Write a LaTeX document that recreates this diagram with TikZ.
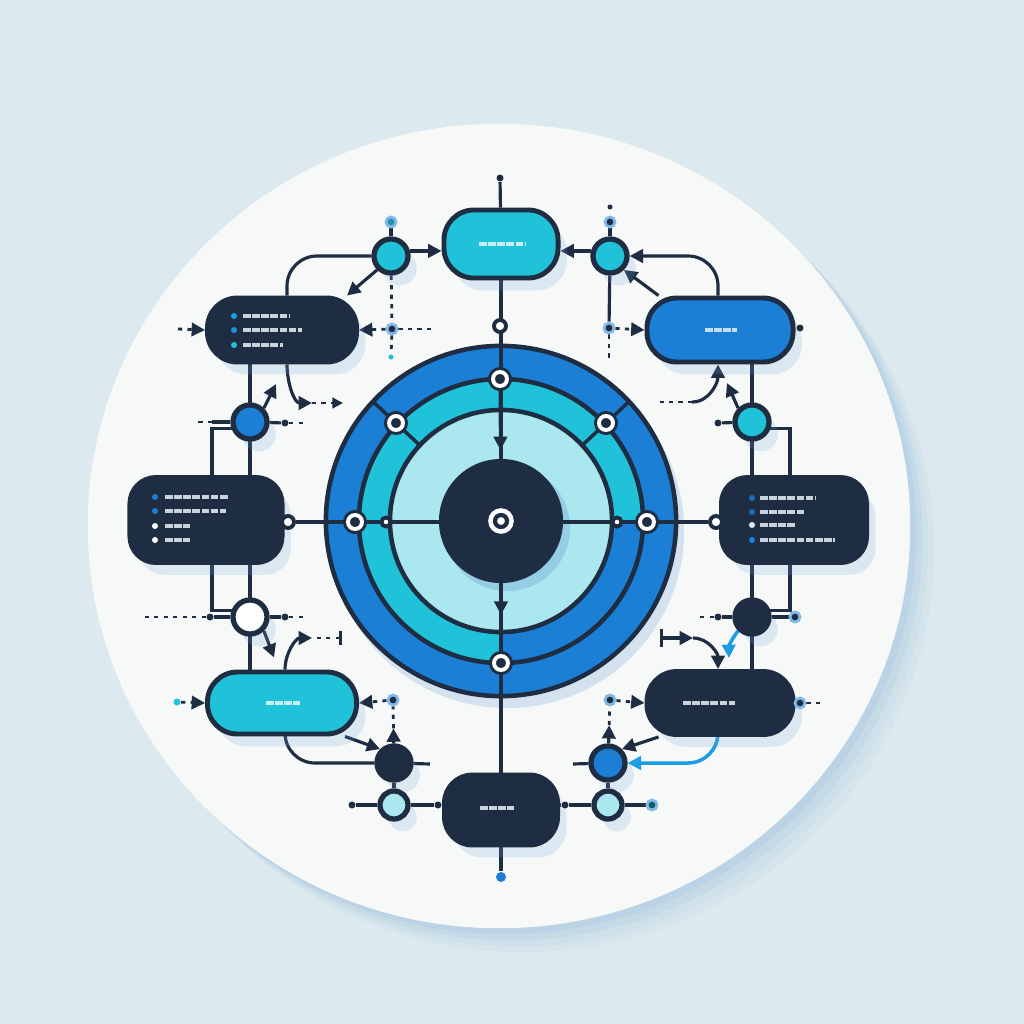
\documentclass[tikz,border=0pt]{standalone}
\usetikzlibrary{arrows.meta,calc}

\definecolor{navy}{HTML}{1F2D42}
\definecolor{ringblue}{HTML}{1C7FD6}
\definecolor{ringcyan}{HTML}{1FC2D9}
\definecolor{paleaqua}{HTML}{ABE7EF}
\definecolor{backdrop}{HTML}{DCE9EE}
\definecolor{disc}{HTML}{F7F9F9}
\definecolor{glow}{HTML}{6E9FD3}
\definecolor{brightblue}{HTML}{1E9CE3}
\definecolor{glyph}{HTML}{C9D3DE}

\pgfdeclarelayer{back}
\pgfdeclarelayer{wires}
\pgfsetlayers{back,wires,main}

\begin{document}
\begin{tikzpicture}[x=0.01cm,y=-0.01cm,
    wire/.style={draw=navy,line width=0.9pt},
    dotwire/.style={draw=navy,line width=0.8pt,dash pattern=on 1.2pt off 1.5pt},
    bluewire/.style={draw=brightblue,line width=1pt},
    arr/.style={-{Triangle[length=3.8pt,width=3.8pt]}},
    lift/.style={preaction={fill=glow,opacity=0.2,transform canvas={xshift=2.5pt,yshift=-3.5pt}}},
    card/.style={rectangle,rounded corners=0.26cm,draw=navy,line width=1.4pt,inner sep=0pt,lift},
    ball/.style={circle,draw=navy,line width=1.5pt,minimum size=0.34cm,inner sep=0pt,lift},
    ringnode/.style={circle,fill=navy,draw=navy,double=white,double distance=1.1pt,line width=0.85pt,minimum size=0.14cm,inner sep=0pt},
    hubnode/.style={circle,fill=white,draw=white,double=navy,double distance=1.2pt,line width=1.3pt,minimum size=0.12cm,inner sep=0pt},
    hollow/.style={circle,fill=white,draw=navy,line width=1.1pt,minimum size=0.12cm,inner sep=0pt},
    pin/.style={circle,fill=navy,minimum size=0.07cm,inner sep=0pt},
    bead/.style={circle,fill=navy,draw=ringblue!55,line width=0.8pt,minimum size=0.1cm,inner sep=0pt},
    glyphs/.style={line width=1.4pt,dash pattern=on 2.2pt off 0.4pt}
]

\begin{pgfonlayer}{back}
    \fill[backdrop] (0,0) rectangle (1024,1024);
    \foreach \s/\o in {24/0.05,18/0.07,12/0.09,6/0.11}
        \fill[glow,opacity=\o] ({499+\s},{526+\s}) ellipse [x radius=4.11cm,y radius=4.02cm];
    \fill[disc] (499,526) ellipse [x radius=4.11cm,y radius=4.02cm];

    % target rings
    \fill[glow,opacity=0.25] (507,531) circle [radius=1.77cm];
    \fill[ringblue] (501,521) circle [radius=1.75cm];
    \fill[ringcyan] (501,521) circle [radius=1.42cm];
    \fill[ringblue] (501,521) -- ++(0:1.42cm) arc [start angle=0,end angle=-90,radius=1.42cm] -- cycle;
    \fill[paleaqua] (501,521) circle [radius=1.11cm];
    \fill[glow,opacity=0.35] (507,528) circle [radius=0.63cm];
    \fill[navy] (501,521) circle [radius=0.62cm];
    \draw[navy,line width=1.3pt] (501,521) circle [radius=1.75cm] circle [radius=1.42cm] circle [radius=1.11cm];
    \draw[navy,line width=1pt] (501,521) ++(137:1.11cm) -- ++(137:0.64cm)
        (501,521) ++(43:1.11cm) -- ++(43:0.64cm);
\end{pgfonlayer}

% target markers
\node[hubnode] (hub) at (501,521) {};
\node[ringnode] (rtop) at (500,379) {};
\node[ringnode] (rtl) at (396,423) {};
\node[ringnode] (rtr) at (606,423) {};
\node[ringnode] (rleft) at (355,522) {};
\node[ringnode] (rright) at (647,522) {};
\node[ringnode] (rbot) at (501,663) {};
\node[hollow,minimum size=0.09cm] (wl) at (386,522) {};
\node[hollow,minimum size=0.09cm] (wr) at (617,522) {};

% boxes
\node[card,fill=ringcyan,minimum width=1.14cm,minimum height=0.68cm,rounded corners=0.3cm] (topbox) at (501,244) {};
\node[card,fill=navy,minimum width=1.49cm,minimum height=0.64cm,rounded corners=0.3cm] (tlbox) at (282,330) {};
\node[card,fill=ringblue,minimum width=1.46cm,minimum height=0.64cm,rounded corners=0.3cm] (trbox) at (720,330) {};
\node[card,fill=navy,minimum width=1.52cm,minimum height=0.85cm] (lmbox) at (206,520) {};
\node[card,fill=navy,minimum width=1.45cm,minimum height=0.85cm] (rmbox) at (794,520) {};
\node[card,fill=ringcyan,minimum width=1.49cm,minimum height=0.62cm,rounded corners=0.3cm] (lbbox) at (282,703) {};
\node[card,fill=navy,minimum width=1.46cm,minimum height=0.63cm,rounded corners=0.3cm] (rbbox) at (720,703) {};
\node[card,fill=navy,minimum width=1.13cm,minimum height=0.70cm,rounded corners=0.28cm] (botbox) at (501,810) {};

% circles
\node[ball,fill=ringcyan] (tlc) at (391,256) {};
\node[ball,fill=ringcyan] (trc) at (610,256) {};
\node[ball,fill=ringblue] (lc1) at (250,422) {};
\node[ball,fill=ringcyan] (rc1) at (752,422) {};
\node[ball,fill=white] (lc2) at (250,617) {};
\node[ball,fill=navy] (rc2) at (752,617) {};
\node[ball,fill=navy] (lbc) at (394,763) {};
\node[ball,fill=ringblue] (rbc) at (608,763) {};
\node[ball,fill=paleaqua,minimum size=0.28cm] (lbl) at (394,805) {};
\node[ball,fill=paleaqua,minimum size=0.28cm] (rbl) at (608,805) {};

% dots
\node[pin] (topdot) at (500,178) {};
\node[hollow] (topring) at (500,326) {};
\node[pin,fill=ringblue,minimum size=0.1cm] (botdot) at (501,877) {};
\node[pin] (botnotch) at (501,776) {};
\node[bead,fill=ringcyan!70!navy] (tlcdot) at (391,222) {};
\node[bead] (trcdot) at (610,222) {};
\node[pin,minimum size=0.05cm] (trtop) at (610,207) {};
\node[bead] (tlmid) at (392,329) {};
\node[bead] (trmid) at (609,328) {};
\node[pin,fill=ringcyan,minimum size=0.05cm] (tlmidb) at (391,357) {};
\node[pin] (trpin) at (800,328) {};
\node[hollow] (lhook) at (288,522) {};
\node[hollow] (rhook) at (716,522) {};
\node[pin] (lc1r) at (285,423) {};
\node[pin] (rc1l) at (718,423) {};
\node[pin] (lc2l) at (210,617) {};
\node[pin] (lc2r) at (285,617) {};
\node[pin] (rc2l) at (718,617) {};
\node[bead] (rc2r) at (795,617) {};
\node[pin,fill=ringcyan] (lbin) at (177,702) {};
\node[bead] (lbring) at (393,700) {};
\node[bead] (rbring) at (610,700) {};
\node[bead] (rbpin) at (800,703) {};
\node[pin] (lbll) at (352,805) {};
\node[pin] (botl) at (438,805) {};
\node[pin] (botr) at (565,805) {};
\node[bead,fill=teal!60!navy] (rblr) at (652,805) {};

\coordinate (tlin) at (178,329);
\coordinate (tlmidr) at (436,329);
\coordinate (trmidb) at (609,358);
\coordinate (tlknee) at (312,403);
\coordinate (tltail) at (343,403);
\coordinate (trknee) at (692,402);
\coordinate (trtail) at (660,402);
\coordinate (lc1stub) at (212,422);
\coordinate (lc1tail) at (198,422);
\coordinate (lc1rtail) at (303,423);
\coordinate (lc1up) at (276,384);
\coordinate (rc1up) at (727,383);
\coordinate (lc2tail) at (140,617);
\coordinate (lc2rtail) at (305,617);
\coordinate (rc2ltail) at (700,617);
\coordinate (rc2blue) at (729,658);
\coordinate (lbknee) at (312,638);
\coordinate (lbtail) at (342,638);
\coordinate (rbknee) at (693,638);
\coordinate (rbtail) at (660,638);
\coordinate (lbcstub) at (430,764);
\coordinate (rbcstub) at (573,764);
\coordinate (rbpintail) at (825,703);

\begin{pgfonlayer}{wires}
    % spine
    \draw[wire] (topdot) -- (topbox);
    \draw[wire] (topbox) -- (botbox);
    \draw[wire] (botbox) -- (botdot);
    \draw[wire] (lhook) -- (rhook);
    \draw[wire,arr] (rtop) -- ($(rtop)!0.5!(hub)$);
    \draw[wire,arr] (hub) -- ($(hub)!0.66!(rbot)$);

    % top left
    \draw[wire] (tlcdot) -- (tlc);
    \draw[wire,arr] (tlc.15) -- (tlc.15 -| topbox.west);
    \draw[wire,rounded corners=0.3cm] (tlc.west) -| ($(tlbox.north)+(5,0)$);
    \draw[wire,arr] (tlc.225) -- ($(tlbox.north east)+(-12,0)$);
    \draw[dotwire] (tlc) -- (tlmid) -- (tlmidb);
    \draw[dotwire,arr] (tlmid) -- (tlbox.east);
    \draw[dotwire] (tlmid) -- (tlmidr);
    \draw[dotwire,arr] (tlin) -- (tlbox.west);

    % top right
    \draw[wire] (trcdot) -- (trc);
    \draw[wire,arr] (trc.165) -- (trc.165 -| topbox.east);
    \draw[wire,arr,rounded corners=0.3cm] ($(trbox.north)+(-2,0)$) |- (trc.east);
    \draw[wire,arr] ($(trbox.north west)+(14,0)$) -- (trc.south east);
    \draw[wire] (trc) -- (trmid);
    \draw[dotwire] (trmid) -- (trmidb);
    \draw[dotwire,arr] (trmid) -- (trbox.west);

    % left column
    \draw[wire] (tlbox.south -| lc1) -- (lmbox.north -| lc1);
    \draw[wire] ($(lmbox.north -| lc1)+(-38,0)$) |- (lc1.200);
    \draw[wire] (lc1) -- (lc1stub);
    \draw[dotwire] (lc1stub) -- (lc1tail);
    \draw[wire] (lc1) -- (lc1r);
    \draw[dotwire] (lc1r) -- (lc1rtail);
    \draw[wire,arr] (lc1.north east) -- (lc1up);
    \draw[wire,arr] ($(tlbox.south)+(5,0)$) to[out=-90,in=180] (tlknee);
    \draw[dotwire,-{Triangle[length=3pt,width=3pt]}] (tlknee) -- (tltail);
    \draw[wire] (lmbox.south -| lc2) -- (lbbox.north -| lc2);
    \draw[wire] ($(lmbox.south -| lc2)+(-38,0)$) |- (lc2.160);
    \draw[wire] (lc2) -- (lc2l);
    \draw[dotwire] (lc2l) -- (lc2tail);
    \draw[wire] (lc2) -- (lc2r);
    \draw[dotwire] (lc2r) -- (lc2rtail);
    \draw[wire,arr] (lc2.south east) -- ($(lbbox.north)+(-8,-12)$);
    \draw[wire,arr] ($(lbbox.north)+(3,0)$) to[out=90,in=180] (lbknee);
    \draw[dotwire,{Bar[width=4pt]}-] (lbtail) -- (lbknee);

    % right column
    \draw[wire] (trbox.south -| rc1) -- (rmbox.north -| rc1);
    \draw[wire] ($(rmbox.north -| rc1)+(38,0)$) |- (rc1.-20);
    \draw[wire] (rc1) -- (rc1l);
    \draw[wire,arr] (rc1.north west) -- (rc1up);
    \draw[wire,arr] (trknee) to[out=0,in=-90] ($(trbox.south)+(-2,0)$);
    \draw[dotwire] (trknee) -- (trtail);
    \draw[wire] (rmbox.south -| rc2) -- (rbbox.north -| rc2);
    \draw[wire] ($(rmbox.south -| rc2)+(38,0)$) |- (rc2.20);
    \draw[wire] (rc2) -- (rc2r);
    \draw[wire] (rc2) -- (rc2l);
    \draw[dotwire] (rc2l) -- (rc2ltail);
    \draw[bluewire,arr] (rc2.south west) to[bend right=20] (rc2blue);
    \draw[wire,{Bar[width=5pt]}-{Triangle[length=3.8pt,width=3.8pt]}] (rbtail) -- (rbknee);
    \draw[wire,arr] (rbknee) to[out=0,in=90] ($(rbbox.north)+(-2,0)$);

    % bottom left
    \draw[dotwire,arr] (lbin) -- (lbbox.west);
    \draw[dotwire,arr] (lbring) -- (lbbox.east);
    \draw[wire,arr] ($(lbbox.south east)+(-14,0)$) -- (lbc.north west);
    \draw[wire,rounded corners=0.3cm] ($(lbbox.south)+(3,0)$) |- (lbc.west);
    \draw[wire] (lbc) -- (lbcstub);
    \draw[wire,arr] (lbc) -- ($(lbc)!0.55!(lbring)$);
    \draw[dotwire] ($(lbc)!0.55!(lbring)$) -- (lbring);
    \draw[wire] (lbc) -- (lbl);
    \draw[wire] (lbll) -- (lbl) -- (botl) -- (botl -| botbox.west);

    % bottom right
    \draw[wire] (botbox.east |- botr) -- (botr) -- (rbl) -- (rblr);
    \draw[wire] (rbc) -- (rbl);
    \draw[wire] (rbc) -- (rbcstub);
    \draw[wire,arr] (rbc) -- ($(rbc)!0.6!(rbring)$);
    \draw[dotwire] ($(rbc)!0.6!(rbring)$) -- (rbring);
    \draw[dotwire,arr] (rbring) -- (rbbox.west);
    \draw[wire,arr] ($(rbbox.south west)+(14,0)$) -- (rbc.north east);
    \draw[bluewire,arr,rounded corners=0.3cm] ($(rbbox.south)+(-2,0)$) |- (rbc.east);
    \draw[dotwire] (rbpin) -- (rbpintail);
\end{pgfonlayer}

% lettering
\draw[glyphs,white,opacity=0.75] (479,244) -- (525,244);
\draw[glyphs,white,opacity=0.75] (705,330) -- (737,330);
\draw[glyphs,white,opacity=0.75] (266,703) -- (300,703);
\draw[glyphs,glyph] (683,703) -- (735,703);
\draw[glyphs,glyph] (480,808) -- (514,808);

\fill[ringblue!70!cyan] (234,316) circle [radius=0.03cm];
\fill[ringblue!85!cyan] (234,330) circle [radius=0.03cm];
\fill[ringcyan] (234,345) circle [radius=0.03cm];
\draw[glyphs,glyph] (243,316) -- (290,316);
\draw[glyphs,glyph] (243,330) -- (302,330);
\draw[glyphs,glyph] (243,345) -- (283,345);

\fill[ringblue] (155,497) circle [radius=0.03cm];
\fill[ringblue] (155,511) circle [radius=0.03cm];
\fill[white] (155,526) circle [radius=0.03cm];
\fill[white] (155,540) circle [radius=0.03cm];
\draw[glyphs,glyph] (165,497) -- (228,497);
\draw[glyphs,glyph] (165,511) -- (226,511);
\draw[glyphs,glyph] (165,526) -- (190,526);
\draw[glyphs,glyph] (165,540) -- (190,540);

\fill[ringblue!80!navy] (752,498) circle [radius=0.03cm];
\fill[ringblue!80!navy] (752,512) circle [radius=0.03cm];
\fill[white!85!ringblue] (752,525) circle [radius=0.03cm];
\fill[ringblue] (752,540) circle [radius=0.03cm];
\draw[glyphs,glyph] (760,498) -- (816,498);
\draw[glyphs,glyph] (760,512) -- (805,512);
\draw[glyphs,glyph] (760,525) -- (795,525);
\draw[glyphs,glyph] (760,540) -- (835,540);
\end{tikzpicture}
\end{document}
